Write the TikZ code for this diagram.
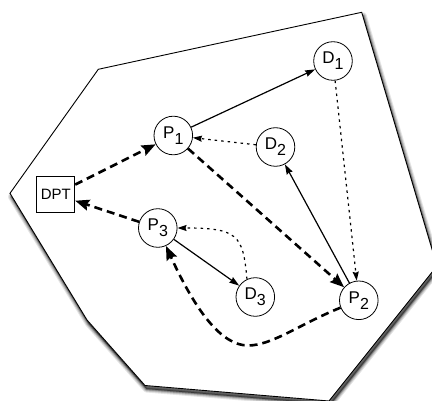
\documentclass[tikz,border=0pt]{standalone}
\usepackage{fontspec}
\setmainfont{Liberation Sans}
\usetikzlibrary{arrows.meta}

% label with a large, lowered index
\newcommand\idxlabel[2]{#1\raisebox{-6pt}{\fontsize{16}{16}\selectfont #2}}
% outline of the service region
\newcommand\regionpath{(98.3,69.3) -- (361.7,12.3) -- (437,266) -- (329,401)
  -- (145,385.5) -- (87,320) -- (10,193.3) -- cycle}

\begin{document}
\begin{tikzpicture}[x=1pt,y=-1pt,
  station/.style={circle,draw,line width=0.8pt,minimum size=38.6pt,inner sep=0pt,
    font=\fontsize{17}{17}\selectfont},
  depot/.style={rectangle,draw,line width=0.8pt,minimum width=38pt,minimum height=36.5pt,
    inner sep=0pt,font=\fontsize{15}{15}\selectfont},
  route/.style={line width=2.6pt,dash pattern=on 8pt off 5pt,
    -{Stealth[length=14pt,width=11pt,inset=2pt]}},
  direct/.style={line width=1.2pt,-{Stealth[length=10pt,width=6.5pt,inset=1pt]}},
  request/.style={line width=1.2pt,dash pattern=on 2.5pt off 4pt,
    -{Stealth[length=9pt,width=6pt,inset=1pt]}},
  shade/.style={draw=black,line join=round,draw opacity=#1},
]
\useasboundingbox (0,0) rectangle (432,401);
\clip (0,0) rectangle (432,401);

% soft drop shadow of the region, built from stacked translucent strokes
\begin{scope}[shift={(1.5,3.5)}]
  \fill[black,opacity=0.5] \regionpath;
  \draw[shade=0.10,line width=7pt] \regionpath;
  \draw[shade=0.15,line width=5pt] \regionpath;
  \draw[shade=0.20,line width=3pt] \regionpath;
  \draw[shade=0.25,line width=1.5pt] \regionpath;
\end{scope}

% service region
\draw[fill=white,line width=0.9pt] \regionpath;

% depot and stations
\node[depot] (DPT) at (55.8,194.3) {DPT};
\node[station] (P1) at (173.3,135.5) {\idxlabel{P}{1}};
\node[station] (P2) at (358.8,300.3) {\idxlabel{P}{2}};
\node[station] (P3) at (157.8,228) {\idxlabel{P}{3}};
\node[station] (D1) at (333,61) {\idxlabel{D}{1}};
\node[station] (D2) at (275.5,147) {\idxlabel{D}{2}};
\node[station] (D3) at (255.3,297) {\idxlabel{D}{3}};
\coordinate (low) at (248,345.5);

% vehicle tour
\draw[route] (DPT) -- (P1);
\draw[route] (P1) -- (P2);
\draw[route] (P2) .. controls (300,324) and (272,345.5) .. (low)
  .. controls (222,345.5) and (196,312) .. (P3);
\draw[route] (P3) -- (DPT);

% direct links
\draw[direct] (P1) -- (D1);
\draw[direct] (P2) -- (D2);
\draw[direct] (P3) -- (D3);

% requests
\draw[request] (D1) -- (P2);
\draw[request] (D2) -- (P1);
\draw[request] (D3.115) .. controls (243,235) and (238,228) .. (P3);
\end{tikzpicture}
\end{document}
